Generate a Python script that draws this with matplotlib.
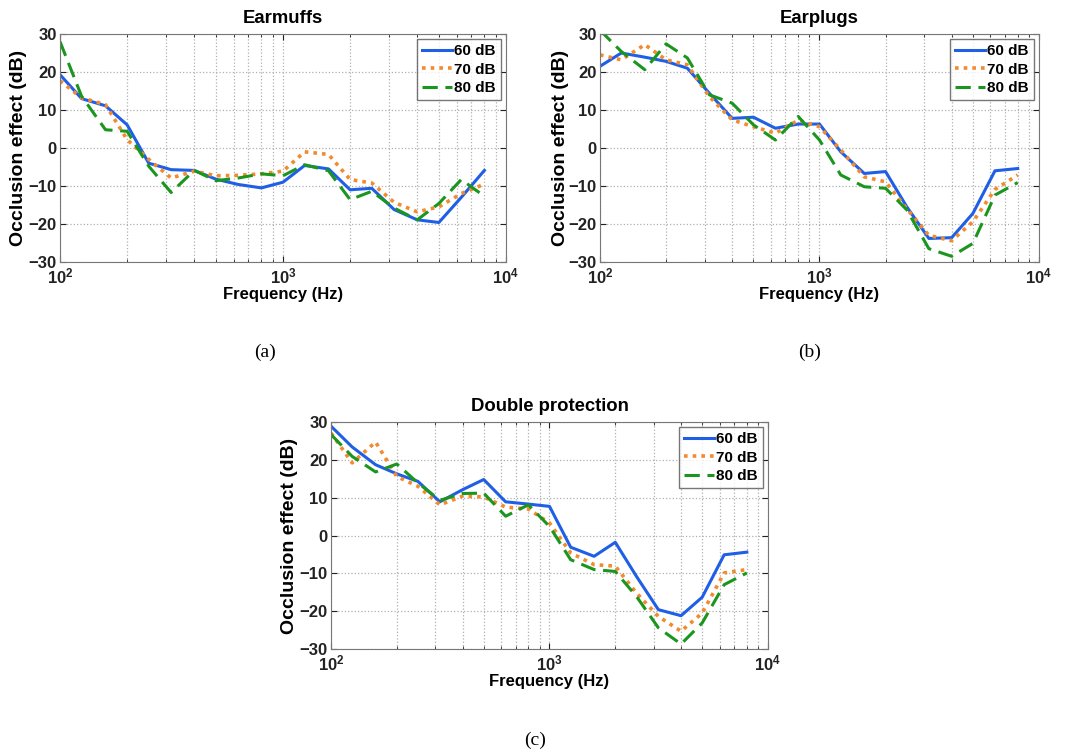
import matplotlib
matplotlib.use("Agg")
import matplotlib.pyplot as plt
from matplotlib.ticker import LogLocator, NullFormatter, FixedLocator

plt.rcParams["font.family"] = ["Liberation Sans", "DejaVu Sans"]
plt.rcParams["mathtext.fontset"] = "custom"
plt.rcParams["mathtext.rm"] = "Liberation Sans"
plt.rcParams["mathtext.bf"] = "Liberation Sans:bold"

freqs = [100, 125, 160, 200, 250, 315, 400, 500, 630, 800, 1000, 1250,
         1600, 2000, 2500, 3150, 4000, 5000, 6300, 8000]
series_labels = ["60 dB", "70 dB", "80 dB"]

earmuffs_60 = [19.3, 13.0, 11.1, 6.1, -4.0, -5.7, -5.9, -8.2, -9.6, -10.5, -9.0, -4.6,
               -5.5, -11.0, -10.6, -16.2, -18.9, -19.6, -13.0, -5.9]
earmuffs_70 = [17.7, 13.2, 11.4, 2.2, -3.0, -7.9, -6.1, -7.3, -7.2, -6.8, -6.1, -1.0,
               -1.7, -8.3, -9.2, -14.3, -16.8, -15.5, -12.0, -9.5]
earmuffs_80 = [28.0, 13.6, 4.8, 4.4, -4.8, -11.7, -5.9, -8.6, -7.9, -6.8, -7.3, -4.4,
               -6.0, -13.6, -11.4, -15.8, -18.9, -14.6, -8.3, -12.7]

earplugs_60 = [21.5, 25.0, 23.9, 22.8, 21.0, 14.4, 7.8, 8.1, 5.2, 6.3, 6.3, -1.0,
               -6.7, -6.2, -15.5, -23.8, -23.6, -17.2, -6.0, -5.4]
earplugs_70 = [24.5, 23.2, 27.2, 23.2, 21.9, 13.5, 7.4, 5.6, 3.9, 7.3, 5.6, -0.5,
               -7.6, -8.9, -16.0, -23.0, -24.4, -19.4, -10.9, -7.1]
earplugs_80 = [31.0, 25.4, 20.6, 27.4, 23.7, 14.0, 11.8, 6.1, 2.1, 8.3, 2.1, -7.1,
               -10.2, -10.6, -16.3, -26.5, -28.5, -25.1, -12.4, -9.1]

double_60 = [28.9, 23.4, 18.7, 16.3, 14.3, 8.9, 12.1, 14.8, 8.9, 8.3, 7.7, -3.1,
             -5.5, -1.8, -10.8, -19.6, -21.2, -16.3, -5.1, -4.4]
double_70 = [27.1, 19.2, 24.7, 15.6, 13.0, 8.1, 10.4, 10.2, 7.5, 7.0, 3.3, -4.6,
             -7.7, -8.1, -15.2, -21.4, -25.3, -20.5, -9.9, -9.0]
double_80 = [26.7, 20.9, 16.8, 18.9, 13.9, 9.3, 11.1, 11.2, 5.1, 8.1, 2.4, -6.4,
             -9.0, -9.5, -16.1, -24.4, -28.7, -23.1, -13.0, -9.9]

titles = ["Earmuffs", "Earplugs", "Double protection"]
sublabels = ["(a)", "(b)", "(c)"]
yticks = [-30, -20, -10, 0, 10, 20, 30]
xtick_labels = [r"$\mathbf{10^{2}}$", r"$\mathbf{10^{3}}$", r"$\mathbf{10^{4}}$"]

colors = ["#1f5fe6", "#f28a2e", "#1a961e"]
styles = [dict(linestyle="-", linewidth=2.2),
          dict(linestyle=(0, (1, 1.4)), linewidth=2.6),
          dict(linestyle=(0, (5, 2.5)), linewidth=2.2)]

fig = plt.figure(figsize=(10.7, 7.52), dpi=100)
W, H = 1070, 752
def box(l, t, r, b):
    return [l / W, 1 - b / H, (r - l) / W, (b - t) / H]

axes_px = [(60, 34, 506, 262), (600, 34, 1039, 262), (331, 422, 768, 649)]
ylabel_offset_px = [-33, -31, -33]
data = [(earmuffs_60, earmuffs_70, earmuffs_80),
        (earplugs_60, earplugs_70, earplugs_80),
        (double_60, double_70, double_80)]
sub_pos = [(265, 352), (810, 352), (535, 740)]

for px, yoff, d, title, sl, sp in zip(axes_px, ylabel_offset_px, data, titles,
                                      sublabels, sub_pos):
    ax = fig.add_axes(box(*px))
    for vals, lab, c, st in zip(d, series_labels, colors, styles):
        ax.plot(freqs, vals, color=c, label=lab, **st)
    ax.set_xscale("log")
    ax.set_xlim(100, 10000)
    ax.set_ylim(-30, 30)
    ax.set_yticks(yticks)
    ax.xaxis.set_major_locator(FixedLocator([100, 1000, 10000]))
    ax.xaxis.set_minor_locator(LogLocator(base=10, subs=range(2, 10)))
    ax.xaxis.set_minor_formatter(NullFormatter())
    ax.set_xticklabels(xtick_labels)
    ax.grid(True, which="major", linestyle=":", color="#b0b0b0", linewidth=0.9)
    ax.grid(True, which="minor", axis="x", linestyle=":", color="#b0b0b0", linewidth=0.9)
    ax.tick_params(which="both", direction="in", top=True, right=True,
                   labelsize=12, colors="#222222")
    ax.tick_params(which="major", length=4)
    ax.tick_params(which="minor", length=2)
    ax.tick_params(axis="y", pad=2.5)
    for lbl in ax.get_yticklabels() + ax.get_xticklabels():
        lbl.set_fontweight("bold")
    for sp_ in ax.spines.values():
        sp_.set_color("#777777")
    ax.set_title(title, fontsize=13.3, fontweight="bold", pad=8)
    ax.set_xlabel("Frequency (Hz)", fontsize=12, fontweight="bold", labelpad=0)
    ax.set_ylabel("Occlusion effect (dB)", fontsize=14, fontweight="bold")
    ax.yaxis.set_label_coords(yoff / (px[2] - px[0]), 0.5)
    leg = ax.legend(loc="upper right", frameon=True, fancybox=False,
                    handlelength=2.0, handletextpad=0.15, borderpad=0.3,
                    labelspacing=0.3, borderaxespad=0.35,
                    prop={"weight": "bold", "size": 11})
    leg.get_frame().set_edgecolor("#555555")
    leg.get_frame().set_linewidth(1.0)
    fig.text(sp[0] / W, 1 - sp[1] / H, sl, ha="center", va="center",
             fontsize=14, family="Liberation Serif")

fig.savefig("out.png", dpi=100)
